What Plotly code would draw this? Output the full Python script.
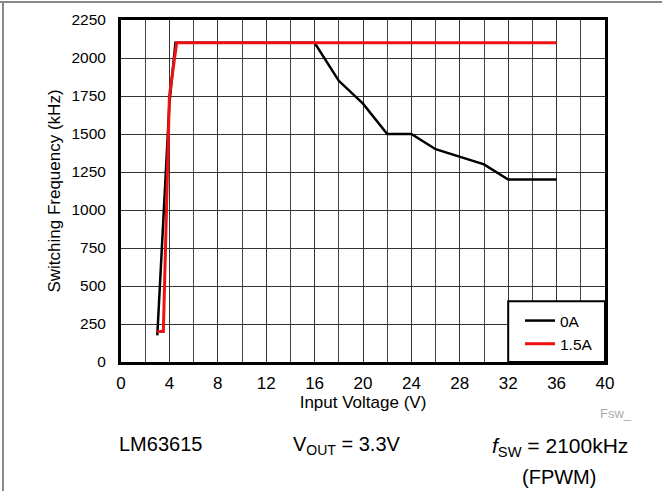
import plotly.graph_objects as go

# input voltage (V) and switching frequency (kHz)
vin_0a = [3, 4, 4.5, 16, 18, 20, 22, 24, 26, 28, 30, 32, 36]
fsw_0a = [175, 1700, 2100, 2100, 1850, 1700, 1500, 1500, 1400, 1350, 1300, 1200, 1200]

vin_15a = [3, 3.5, 4, 4.6, 36]
fsw_15a = [200, 200, 1750, 2100, 2100]

x_ticks = list(range(0, 41, 4))
y_ticks = list(range(0, 2251, 250))

font = "Liberation Sans, Arial, sans-serif"

# plot area in page pixels
L, R, T, B = 121, 605, 20, 362
W, H = R - L, B - T


def px(x):
    return (x - L) / W


def py(y):
    return (B - y) / H


fig = go.Figure()
fig.add_trace(go.Scatter(x=vin_0a, y=fsw_0a, mode="lines", name="0A",
                         line=dict(color="black", width=2.5)))
fig.add_trace(go.Scatter(x=vin_15a, y=fsw_15a, mode="lines", name="1.5A",
                         line=dict(color="#ee1111", width=3)))

# white box behind the legend
fig.add_shape(type="rect", x0=32, x1=40, y0=0, y1=400, layer="above",
              fillcolor="white", line=dict(color="black", width=2))

fig.update_xaxes(range=[0, 40], tickvals=x_ticks, showgrid=True,
                 gridcolor="#333", gridwidth=1,
                 minor=dict(dtick=2, showgrid=True, gridcolor="#444", gridwidth=1),
                 showline=True, mirror=True, linecolor="black", linewidth=3,
                 ticks="", zeroline=False, ticklabelstandoff=4,
                 tickfont=dict(size=17, color="black"),
                 title=dict(text="Input Voltage (V)", font=dict(size=17, color="black"), standoff=2))
fig.update_yaxes(range=[0, 2250], tickvals=y_ticks, showgrid=True,
                 gridcolor="#333", gridwidth=1,
                 showline=True, mirror=True, linecolor="black", linewidth=3,
                 ticks="", zeroline=False, ticklabelstandoff=9,
                 tickfont=dict(size=15.5, color="black"),
                 title=dict(text="Switching Frequency (kHz)", font=dict(size=17, color="black"), standoff=7))

anns = [
    dict(text="Fsw_", x=616, y=413, size=13, color="#aaa"),
    dict(text="LM63615", x=160, y=444, size=20, color="black"),
    dict(text="V<sub>OUT</sub> = 3.3V", x=347, y=446, size=20, color="black"),
    dict(text="<i>f</i><sub>SW</sub> = 2100kHz", x=560, y=447, size=21, color="black"),
    dict(text="(FPWM)", x=559, y=477, size=20, color="black"),
]
for a in anns:
    fig.add_annotation(text=a["text"], x=px(a["x"]), y=py(a["y"]),
                       xref="paper", yref="paper", showarrow=False,
                       xanchor="center", yanchor="middle",
                       font=dict(size=a["size"], color=a["color"], family=font))

# thin grey frame at top and left of the page
fig.add_shape(type="line", xref="paper", yref="paper",
              x0=px(0), x1=px(662), y0=py(2), y1=py(2),
              line=dict(color="#888", width=2))
fig.add_shape(type="line", xref="paper", yref="paper",
              x0=px(3), x1=px(3), y0=py(491), y1=py(1),
              line=dict(color="#888", width=2))

fig.update_layout(
    width=662, height=491,
    margin=dict(l=L, r=662 - R, t=T, b=491 - B, autoexpand=False),
    paper_bgcolor="white", plot_bgcolor="white",
    font=dict(family=font, color="black"),
    showlegend=True,
    legend=dict(x=px(520), y=py(304), xanchor="left", yanchor="top",
                bgcolor="rgba(0,0,0,0)", borderwidth=0,
                font=dict(size=15.5, color="black"),
                itemwidth=30, tracegroupgap=0),
)

fig.write_html("out.html", config={"displayModeBar": False},
               post_script="document.body.style.margin='0';")
